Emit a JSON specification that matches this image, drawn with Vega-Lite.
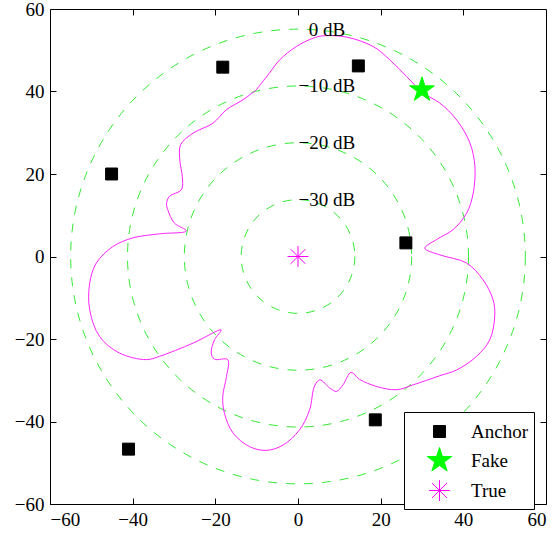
{
  "$schema": "https://vega.github.io/schema/vega-lite/v6.json",
  "width": 496,
  "height": 495,
  "autosize": {"type": "none"},
  "padding": {"left": 50, "top": 9, "right": 12, "bottom": 33},
  "background": "white",
  "config": {
    "view": {"stroke": "#000000", "strokeWidth": 1},
    "axis": {
      "grid": false,
      "domain": false,
      "labelFont": "Liberation Serif",
      "labelFontSize": 19,
      "labelColor": "#000000",
      "tickColor": "#000000",
      "tickSize": -6,
      "labelPadding": 12,
      "title": null
    },
    "legend": {
      "orient": "none",
      "legendX": 354,
      "legendY": 403,
      "strokeColor": "#000000",
      "fillColor": "#ffffff",
      "padding": 6,
      "rowPadding": 3,
      "labelFont": "Liberation Serif",
      "labelFontSize": 19,
      "labelColor": "#000000",
      "symbolSize": 676,
      "symbolStrokeWidth": 1,
      "symbolOffset": 16,
      "labelOffset": 18
    }
  },
  "datasets": {
    "circles": [
      {"cx": 0, "cy": 0, "r": 55},
      {"cx": 0, "cy": 0, "r": 41.25},
      {"cx": 0, "cy": 0, "r": 27.5},
      {"cx": 0, "cy": 0, "r": 13.75}
    ],
    "labels": [
      {"x": 7, "y": 55, "text": "0 dB"},
      {"x": 7, "y": 41.25, "text": "−10 dB"},
      {"x": 7, "y": 27.5, "text": "−20 dB"},
      {"x": 7, "y": 13.75, "text": "−30 dB"}
    ],
    "curve": [
      {"i": 0, "x": -10.1, "y": 40.4},
      {"i": 1, "x": -6.9, "y": 44.5},
      {"i": 2, "x": -4.4, "y": 47.7},
      {"i": 3, "x": -0.4, "y": 50.9},
      {"i": 4, "x": 3.6, "y": 52.9},
      {"i": 5, "x": 6.1, "y": 53.5},
      {"i": 6, "x": 11.7, "y": 53.2},
      {"i": 7, "x": 18.2, "y": 50.9},
      {"i": 8, "x": 22.2, "y": 47.7},
      {"i": 9, "x": 26.3, "y": 43.6},
      {"i": 10, "x": 30.3, "y": 39.6},
      {"i": 11, "x": 34.3, "y": 37.2},
      {"i": 12, "x": 38.4, "y": 33.1},
      {"i": 13, "x": 41.6, "y": 27.5},
      {"i": 14, "x": 42.8, "y": 21.8},
      {"i": 15, "x": 42.4, "y": 15.4},
      {"i": 16, "x": 40.8, "y": 10.5},
      {"i": 17, "x": 37.5, "y": 6.5},
      {"i": 18, "x": 33.5, "y": 4.1},
      {"i": 19, "x": 30.7, "y": 2.0},
      {"i": 20, "x": 34.3, "y": 0.4},
      {"i": 21, "x": 40.8, "y": -1.6},
      {"i": 22, "x": 44.8, "y": -5.7},
      {"i": 23, "x": 47.2, "y": -10.5},
      {"i": 24, "x": 47.6, "y": -14.4},
      {"i": 25, "x": 46.4, "y": -20.2},
      {"i": 26, "x": 43.2, "y": -24.2},
      {"i": 27, "x": 38.4, "y": -27.5},
      {"i": 28, "x": 34.3, "y": -28.9},
      {"i": 29, "x": 27.9, "y": -31.1},
      {"i": 30, "x": 23.8, "y": -32.3},
      {"i": 31, "x": 19.0, "y": -31.5},
      {"i": 32, "x": 14.9, "y": -29.8},
      {"i": 33, "x": 12.8, "y": -28.1},
      {"i": 34, "x": 10.9, "y": -31.1},
      {"i": 35, "x": 9.3, "y": -32.7},
      {"i": 36, "x": 7.7, "y": -31.9},
      {"i": 37, "x": 5.3, "y": -29.9},
      {"i": 38, "x": 4.0, "y": -31.4},
      {"i": 39, "x": 2.8, "y": -37.2},
      {"i": 40, "x": 0.4, "y": -42.0},
      {"i": 41, "x": -3.6, "y": -45.7},
      {"i": 42, "x": -7.7, "y": -47.0},
      {"i": 43, "x": -11.7, "y": -46.1},
      {"i": 44, "x": -15.7, "y": -42.8},
      {"i": 45, "x": -17.8, "y": -38.0},
      {"i": 46, "x": -18.2, "y": -33.9},
      {"i": 47, "x": -17.3, "y": -29.1},
      {"i": 48, "x": -17.0, "y": -25.0},
      {"i": 49, "x": -20.2, "y": -24.9},
      {"i": 50, "x": -21.0, "y": -23.4},
      {"i": 51, "x": -20.2, "y": -20.2},
      {"i": 52, "x": -18.6, "y": -17.8},
      {"i": 53, "x": -25.4, "y": -21.0},
      {"i": 54, "x": -33.5, "y": -24.2},
      {"i": 55, "x": -36.7, "y": -25.0},
      {"i": 56, "x": -43.2, "y": -23.4},
      {"i": 57, "x": -48.0, "y": -19.4},
      {"i": 58, "x": -50.4, "y": -12.9},
      {"i": 59, "x": -50.4, "y": -6.5},
      {"i": 60, "x": -48.8, "y": -1.6},
      {"i": 61, "x": -44.8, "y": 2.4},
      {"i": 62, "x": -40.0, "y": 4.5},
      {"i": 63, "x": -33.5, "y": 5.5},
      {"i": 64, "x": -27.0, "y": 6.2},
      {"i": 65, "x": -29.9, "y": 8.1},
      {"i": 66, "x": -31.5, "y": 11.3},
      {"i": 67, "x": -31.8, "y": 12.8},
      {"i": 68, "x": -31.1, "y": 14.6},
      {"i": 69, "x": -28.2, "y": 16.2},
      {"i": 70, "x": -28.0, "y": 19.4},
      {"i": 71, "x": -28.6, "y": 23.4},
      {"i": 72, "x": -28.4, "y": 27.1},
      {"i": 73, "x": -25.4, "y": 29.9},
      {"i": 74, "x": -20.6, "y": 32.3},
      {"i": 75, "x": -17.3, "y": 35.6},
      {"i": 76, "x": -13.3, "y": 38.0},
      {"i": 77, "x": -10.1, "y": 40.4}
    ],
    "markers": [
      {"type": "Anchor", "x": -18.2, "y": 45.9},
      {"type": "Anchor", "x": -45.1, "y": 20.0},
      {"type": "Anchor", "x": 14.6, "y": 46.2},
      {"type": "Anchor", "x": 26.1, "y": 3.3},
      {"type": "Anchor", "x": -41.0, "y": -46.7},
      {"type": "Anchor", "x": 18.7, "y": -39.6},
      {"type": "Fake", "x": 30.0, "y": 40.4},
      {"type": "True", "x": 0, "y": 0}
    ]
  },
  "resolve": {"axis": {"x": "independent", "y": "independent"}},
  "layer": [
    {
      "data": {"name": "circles"},
      "mark": {"type": "point", "shape": "circle", "filled": false, "stroke": "#33ea33", "strokeWidth": 1, "strokeDash": [9, 9], "opacity": 1},
      "encoding": {
        "x": {"field": "cx", "type": "quantitative", "scale": {"domain": [-60, 60], "nice": false, "zero": false},
              "axis": {"orient": "bottom", "values": [-60, -40, -20, 0, 20, 40, 60]}},
        "y": {"field": "cy", "type": "quantitative", "scale": {"domain": [-60, 60], "nice": false, "zero": false},
              "axis": {"orient": "left", "values": [-60, -40, -20, 0, 20, 40, 60]}},
        "size": {"field": "r", "type": "quantitative", "scale": {"type": "pow", "exponent": 2, "domain": [0, 60], "range": [0, 246016]}, "legend": null}
      }
    },
    {
      "data": {"name": "curve"},
      "mark": {"type": "line", "color": "#ff22ff", "strokeWidth": 1, "interpolate": "catmull-rom"},
      "encoding": {
        "x": {"field": "x", "type": "quantitative", "scale": {"domain": [-60, 60], "nice": false, "zero": false},
              "axis": {"orient": "top", "labels": false, "values": [-40, -20, 0, 20, 40]}},
        "y": {"field": "y", "type": "quantitative", "scale": {"domain": [-60, 60], "nice": false, "zero": false},
              "axis": {"orient": "right", "labels": false, "values": [-40, -20, 0, 20, 40]}},
        "order": {"field": "i", "type": "quantitative"}
      }
    },
    {
      "data": {"name": "labels"},
      "mark": {"type": "text", "font": "Liberation Serif", "fontSize": 19, "color": "#000000", "align": "center", "baseline": "middle"},
      "encoding": {
        "x": {"field": "x", "type": "quantitative", "axis": null},
        "y": {"field": "y", "type": "quantitative", "axis": null},
        "text": {"field": "text"}
      }
    },
    {
      "data": {"name": "markers"},
      "mark": {"type": "point", "filled": true, "size": 676, "opacity": 1, "strokeWidth": 1},
      "encoding": {
        "x": {"field": "x", "type": "quantitative", "axis": null},
        "y": {"field": "y", "type": "quantitative", "axis": null},
        "color": {"field": "type", "type": "nominal",
                  "scale": {"domain": ["Anchor", "Fake", "True"], "range": ["#000000", "#00ff00", "#ff00ff"]},
                  "legend": {"title": null}},
        "stroke": {"field": "type", "type": "nominal",
                  "scale": {"domain": ["Anchor", "Fake", "True"], "range": ["#000000", "#00ff00", "#ff00ff"]},
                  "legend": {"title": null}},
        "shape": {"field": "type", "type": "nominal",
                  "scale": {"domain": ["Anchor", "Fake", "True"],
                            "range": ["M-0.46,-0.46L0.46,-0.46L0.46,0.46L-0.46,0.46Z",
                                      "M0,-1L0.2245,-0.309L0.951,-0.309L0.363,0.118L0.588,0.809L0,0.382L-0.588,0.809L-0.363,0.118L-0.951,-0.309L-0.2245,-0.309Z",
                                      "M0,-0.8L0,0.8M-0.8,0L0.8,0M-0.57,-0.57L0.57,0.57M-0.57,0.57L0.57,-0.57"]},
                  "legend": {"title": null}}
      }
    }
  ]
}
